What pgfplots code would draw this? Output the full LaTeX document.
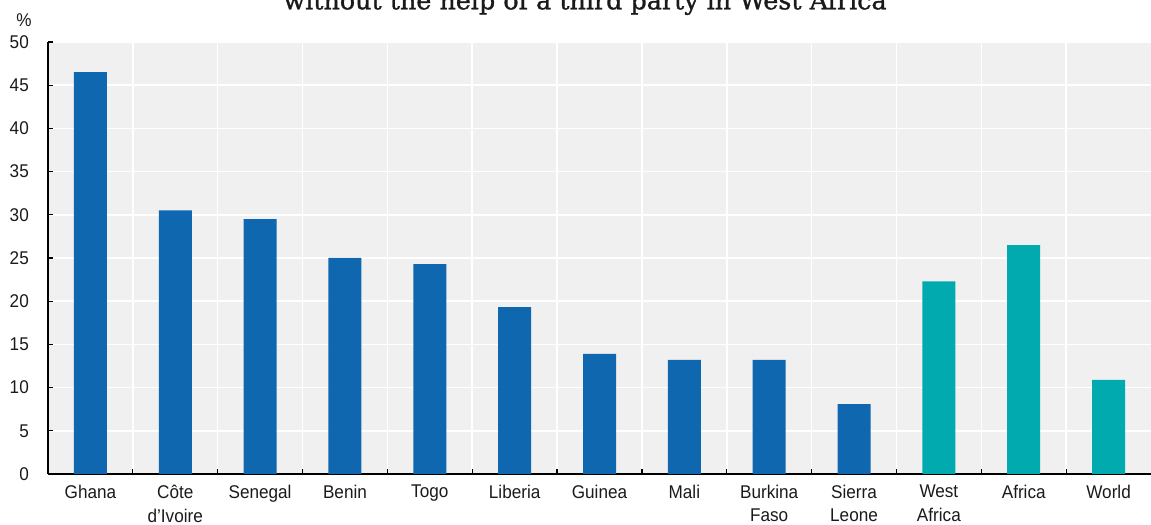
\documentclass[border=0pt]{standalone}
\usepackage{pgfplots}
\pgfplotsset{compat=1.18}
\usepackage{fontspec}
\setmainfont{Liberation Sans}[FakeStretch=0.93]
\newfontfamily\titlefont{DejaVu Serif}[FakeBold=1.2]
\definecolor{oecdblue}{HTML}{0E67AF}
\definecolor{oecdteal}{HTML}{00AAAE}
\definecolor{bggray}{HTML}{F0F0F0}
\definecolor{txt}{HTML}{1A1A1A}
\begin{document}
\begin{tikzpicture}
\useasboundingbox (0,0) rectangle (1151bp,525bp);
\begin{axis}[
  at={(48bp,51bp)}, anchor=south west, scale only axis,
  width=1103bp, height=432bp,
  xmin=-0.5, xmax=12.5, ymin=0, ymax=50,
  ybar, bar width=33bp, bar shift=0pt,
  axis background/.style={fill=bggray},
  axis x line*=bottom, axis y line*=left,
  axis line style={black, line width=1.4bp},
  ytick={0,5,...,50},
  ymajorgrids, xminorgrids,
  grid style={white, line width=1.6bp},
  minor grid style={white, line width=1.6bp},
  xtick={0,...,12},
  xticklabels={Ghana,{Côte\\d’Ivoire},Senegal,Benin,Togo,Liberia,Guinea,Mali,{Burkina\\Faso},{Sierra\\Leone},{West\\Africa},Africa,World},
  minor xtick={0.5,1.5,...,11.5},
  major x tick style={draw=none},
  tick align=inside, major tick length=5bp, minor tick length=5bp,
  tick style={black, line width=1.2bp},
  /pgf/number format/assume math mode=true,
  tick label style={font=\fontsize{18.5}{23.5}\selectfont, text=txt},
  yticklabel style={inner sep=0pt, xshift=-19bp},
  xticklabel style={inner sep=0pt, yshift=-11bp, align=center},
]
\addplot[fill=oecdblue, draw=none] coordinates {(0,46.5) (1,30.5) (2,29.5) (3,25.0) (4,24.3) (5,19.3) (6,13.9) (7,13.2) (8,13.2) (9,8.1)};
\addplot[fill=oecdteal, draw=none] coordinates {(10,22.3) (11,26.5) (12,10.9)};
\end{axis}
\node[font=\fontsize{18.5}{22}\selectfont, text=txt] at (24bp,505bp) {\%};
\node[anchor=base, font=\titlefont\fontsize{25.5}{30}\selectfont, text=txt] at (585bp,515.7bp) {without the help of a third party in West Africa};
\end{tikzpicture}
\end{document}
